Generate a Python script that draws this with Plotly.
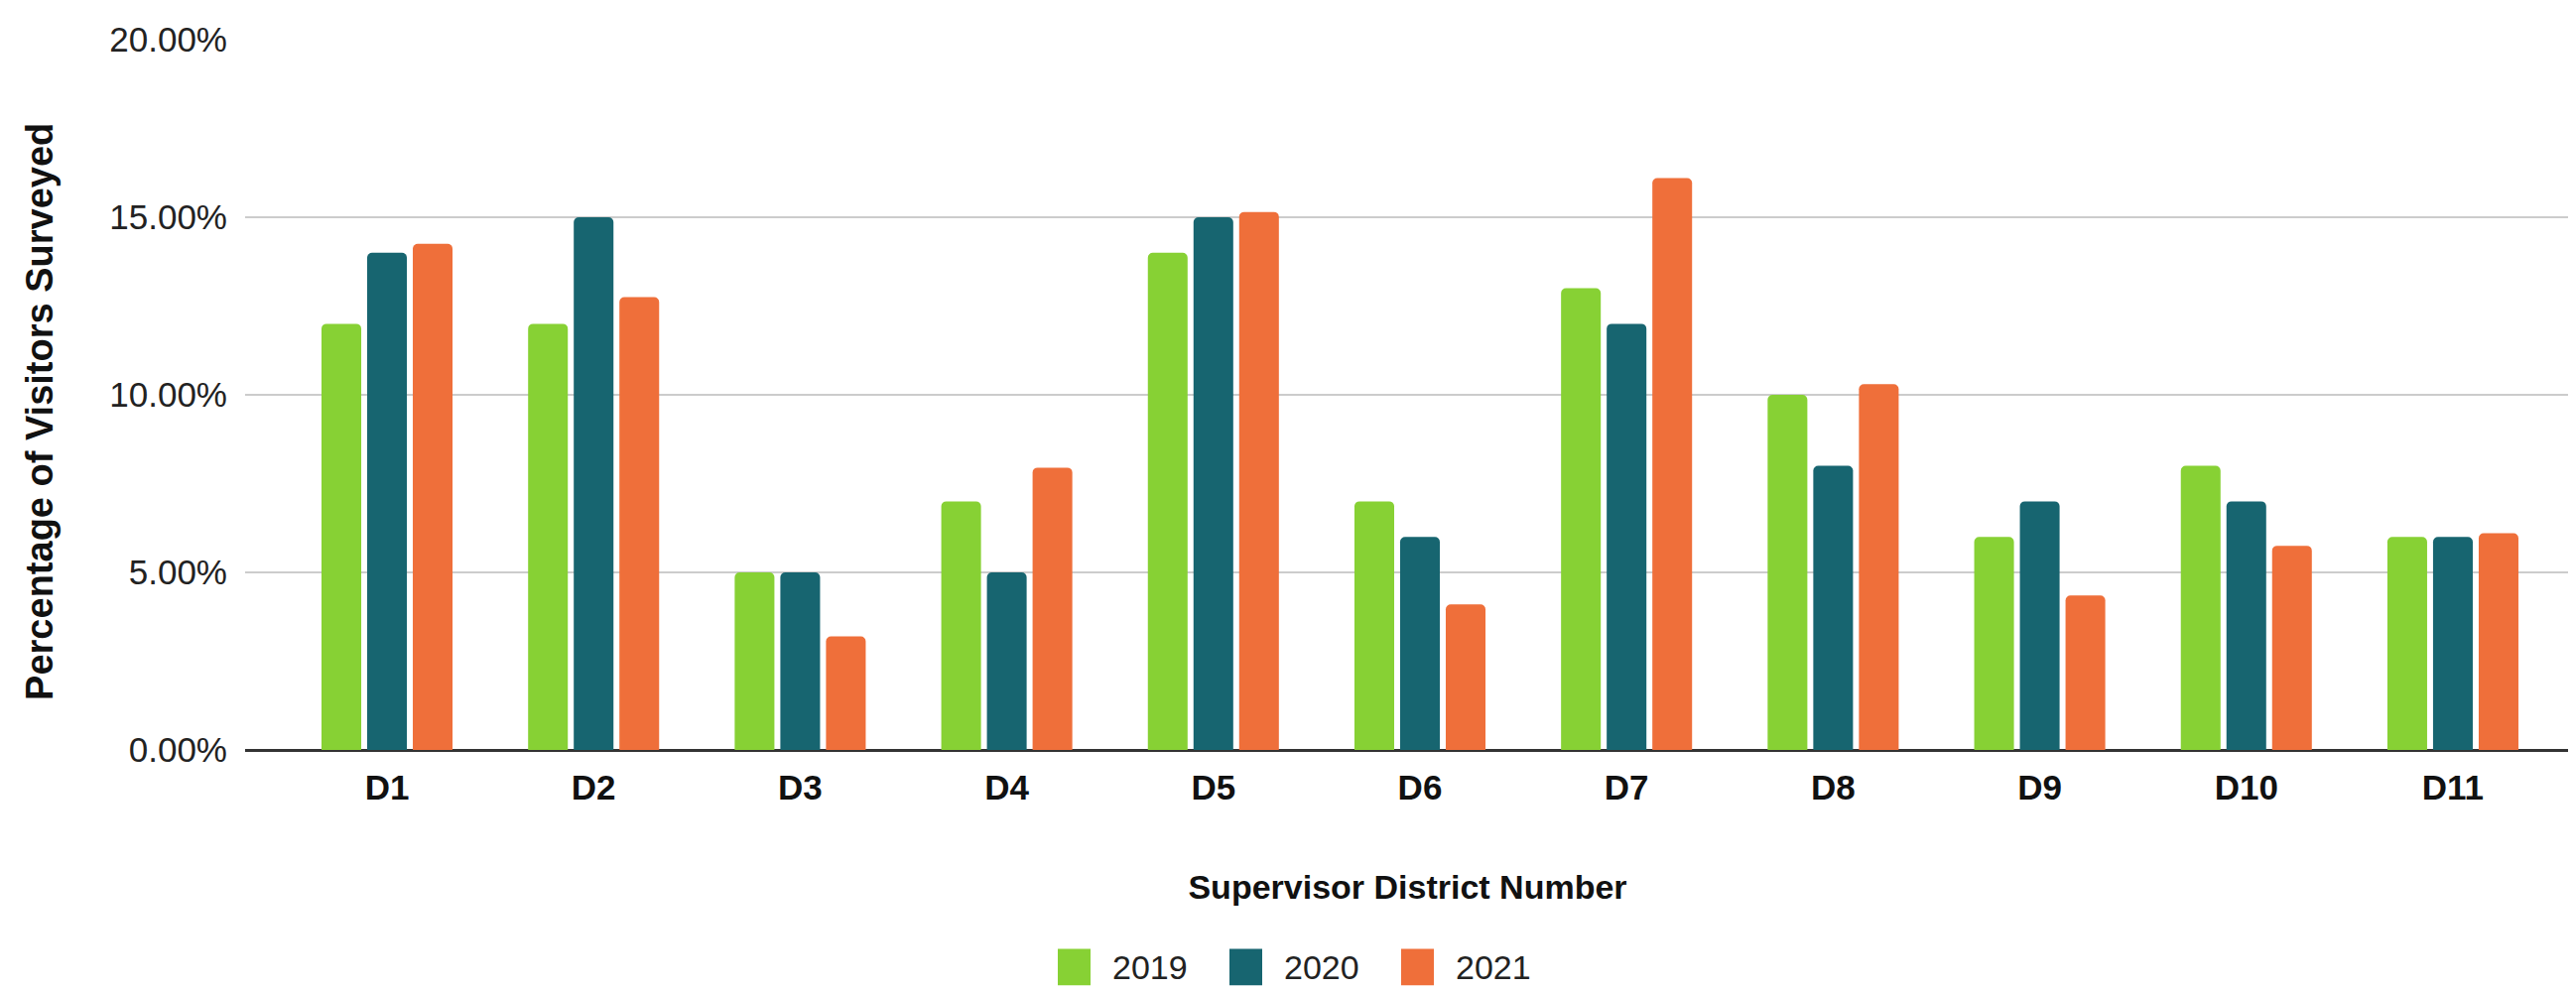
import plotly.graph_objects as go

districts = ["D1", "D2", "D3", "D4", "D5", "D6", "D7", "D8", "D9", "D10", "D11"]
years = ["2019", "2020", "2021"]
pct_2019 = [12, 12, 5, 7, 14, 7, 13, 10, 6, 8, 6]
pct_2020 = [14, 15, 5, 5, 15, 6, 12, 8, 7, 7, 6]
pct_2021 = [14.25, 12.75, 3.2, 7.95, 15.15, 4.1, 16.1, 10.3, 4.35, 5.75, 6.1]
y_ticks = [0, 5, 10, 15, 20]
y_ticktext = ["0.00%", "5.00%", "10.00%", "15.00%", "20.00%"]

series = [pct_2019, pct_2020, pct_2021]
colors = ["#87d134", "#176570", "#ef6f3a"]

W, H = 2596, 1000
ML, MR, MT, MB = 239, 14, 28, 252
PW = W - ML - MR
PH = H - MT - MB

fig = go.Figure()
for name, vals, col in zip(years, series, colors):
    fig.add_trace(go.Bar(
        x=districts, y=vals, name=name, showlegend=False,
        marker=dict(color=col, line=dict(width=0), cornerradius=5),
    ))

# custom legend (large swatches like the reference)
shapes = []
annotations = []
leg_left = 1058
leg_pitch = 173
leg_cy = 968
sw_w, sw_h = 33, 37
for i, (name, col) in enumerate(zip(years, colors)):
    x0 = leg_left + i * leg_pitch
    shapes.append(dict(
        type="rect", xref="paper", yref="paper",
        x0=(x0 - ML) / PW, x1=(x0 + sw_w - ML) / PW,
        y0=(H - MB - (leg_cy + sw_h / 2)) / PH, y1=(H - MB - (leg_cy - sw_h / 2)) / PH,
        fillcolor=col, line=dict(width=0), layer="above",
    ))
    annotations.append(dict(
        text=name, xref="paper", yref="paper",
        x=(x0 + sw_w + 20 - ML) / PW, y=(H - MB - leg_cy) / PH,
        xanchor="left", yanchor="middle", showarrow=False,
        font=dict(size=34, color="#222222", family="Liberation Sans, Arial"),
    ))

annotations.append(dict(
    text="<b>Percentage of Visitors Surveyed</b>", textangle=-90,
    xref="paper", yref="paper", x=0, y=(748 - 405) / PH,
    xanchor="center", yanchor="middle", xshift=32 - ML, showarrow=False,
    font=dict(size=38, color="#111111", family="Liberation Sans, Arial"),
))

fig.update_layout(
    width=W, height=H,
    margin=dict(l=ML, r=MR, t=MT, b=MB),
    paper_bgcolor="white", plot_bgcolor="white",
    barmode="group", bargap=0.337, bargroupgap=0.13,
    font=dict(family="Liberation Sans, Arial, sans-serif", color="#222222"),
    showlegend=False,
    xaxis=dict(
        type="category",
        range=[-0.687, 10.567],
        showgrid=False, showline=False, zeroline=False,
        ticks="", ticklabelstandoff=14,
        tickfont=dict(size=35, color="#111111", family="Liberation Sans, Arial", weight="bold"),
        title=dict(text="Supervisor District Number", standoff=70,
                   font=dict(size=34, color="#111111", family="Liberation Sans, Arial", weight="bold")),
    ),
    yaxis=dict(
        range=[0, 20], tickvals=y_ticks, ticktext=y_ticktext,
        showgrid=True, gridcolor="#cccccc", gridwidth=2,
        zeroline=True, zerolinecolor="#333333", zerolinewidth=3,
        showline=False, ticks="", ticklabelstandoff=17,
        tickfont=dict(size=35, color="#222222", family="Liberation Sans, Arial"),
        title=None,
    ),
    shapes=shapes,
    annotations=annotations,
)

fig.write_html("out.html")
